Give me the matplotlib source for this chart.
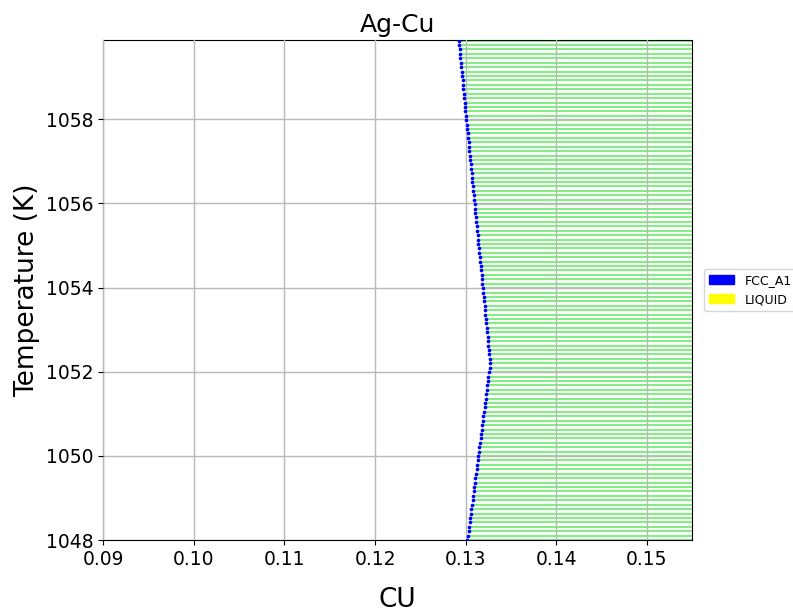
import numpy as np
import matplotlib
matplotlib.use("Agg")
import matplotlib.pyplot as plt
from matplotlib.patches import Patch

# Tie-line temperatures (K)
temperatures = [
    1048.000, 1048.105, 1048.210, 1048.315, 1048.420, 1048.525, 1048.630, 1048.735, 1048.840, 1048.945,
    1049.050, 1049.155, 1049.260, 1049.365, 1049.470, 1049.575, 1049.680, 1049.785, 1049.890, 1049.995,
    1050.100, 1050.205, 1050.310, 1050.415, 1050.520, 1050.625, 1050.730, 1050.835, 1050.940, 1051.045,
    1051.150, 1051.255, 1051.360, 1051.465, 1051.570, 1051.675, 1051.780, 1051.885, 1051.990, 1052.095,
    1052.200, 1052.305, 1052.410, 1052.515, 1052.620, 1052.725, 1052.830, 1052.935, 1053.040, 1053.145,
    1053.250, 1053.355, 1053.460, 1053.565, 1053.670, 1053.775, 1053.880, 1053.985, 1054.090, 1054.195,
    1054.300, 1054.405, 1054.510, 1054.615, 1054.720, 1054.825, 1054.930, 1055.035, 1055.140, 1055.245,
    1055.350, 1055.455, 1055.560, 1055.665, 1055.770, 1055.875, 1055.980, 1056.085, 1056.190, 1056.295,
    1056.400, 1056.505, 1056.610, 1056.715, 1056.820, 1056.925, 1057.030, 1057.135, 1057.240, 1057.345,
    1057.450, 1057.555, 1057.660, 1057.765, 1057.870, 1057.975, 1058.080, 1058.185, 1058.290, 1058.395,
    1058.500, 1058.605, 1058.710, 1058.815, 1058.920, 1059.025, 1059.130, 1059.235, 1059.340, 1059.445,
    1059.550, 1059.655, 1059.760, 1059.865,
]

# FCC_A1 phase boundary composition (mole fraction Cu)
fcc_x = [
    0.13020, 0.13026, 0.13033, 0.13039, 0.13045, 0.13051, 0.13058, 0.13064, 0.13070, 0.13076,
    0.13083, 0.13089, 0.13095, 0.13101, 0.13108, 0.13114, 0.13120, 0.13126, 0.13133, 0.13139,
    0.13145, 0.13151, 0.13158, 0.13164, 0.13170, 0.13176, 0.13183, 0.13189, 0.13195, 0.13201,
    0.13208, 0.13214, 0.13220, 0.13226, 0.13233, 0.13239, 0.13245, 0.13251, 0.13258, 0.13264,
    0.13270, 0.13265, 0.13260, 0.13256, 0.13251, 0.13246, 0.13241, 0.13237, 0.13232, 0.13227,
    0.13222, 0.13218, 0.13213, 0.13208, 0.13203, 0.13198, 0.13194, 0.13189, 0.13184, 0.13179,
    0.13175, 0.13170, 0.13165, 0.13160, 0.13156, 0.13151, 0.13146, 0.13141, 0.13137, 0.13132,
    0.13127, 0.13122, 0.13117, 0.13113, 0.13108, 0.13103, 0.13098, 0.13094, 0.13089, 0.13084,
    0.13079, 0.13075, 0.13070, 0.13065, 0.13060, 0.13055, 0.13051, 0.13046, 0.13041, 0.13036,
    0.13032, 0.13027, 0.13022, 0.13017, 0.13013, 0.13008, 0.13003, 0.12998, 0.12994, 0.12989,
    0.12984, 0.12979, 0.12974, 0.12970, 0.12965, 0.12960, 0.12955, 0.12951, 0.12946, 0.12941,
    0.12936, 0.12932, 0.12927, 0.12922,
]

# Liquid side of the tie lines lies beyond the visible axis range
liquid_x = 0.17

phases = ["FCC_A1", "LIQUID"]
phase_colors = ["blue", "yellow"]
x_ticks = [0.09, 0.10, 0.11, 0.12, 0.13, 0.14, 0.15]
y_ticks = [1048, 1050, 1052, 1054, 1056, 1058]

fig = plt.figure(figsize=(7.93, 6.12), dpi=100)
ax = fig.add_axes([0.130, 0.1176, 0.743, 0.817])

T = np.array(temperatures)
xf = np.array(fcc_x)
ax.hlines(T, xf, liquid_x, colors="#5ee85e", alpha=0.75, linewidth=1.5, zorder=2)
ax.scatter(xf, T, s=7, marker="o", color="blue", linewidths=0, zorder=4)

ax.set_xlim(0.09, 0.155)
ax.set_ylim(1048, 1059.88)
ax.set_xticks(x_ticks)
ax.set_xticklabels([f"{v:.2f}" for v in x_ticks])
ax.set_yticks(y_ticks)
ax.tick_params(labelsize=13.5)
ax.set_axisbelow(False)
ax.grid(True, color="#b8b8b8", linewidth=1.0, zorder=3)

ax.set_title("Ag-Cu", fontsize=18)
ax.set_xlabel("CU", fontsize=19, labelpad=13)
ax.set_ylabel("Temperature (K)", fontsize=19)

handles = [Patch(facecolor=c, edgecolor=c, label=p) for p, c in zip(phases, phase_colors)]
ax.legend(handles=handles, loc="center left", bbox_to_anchor=(1.01, 0.5), fontsize=9)

fig.savefig("out.png", dpi=100)
